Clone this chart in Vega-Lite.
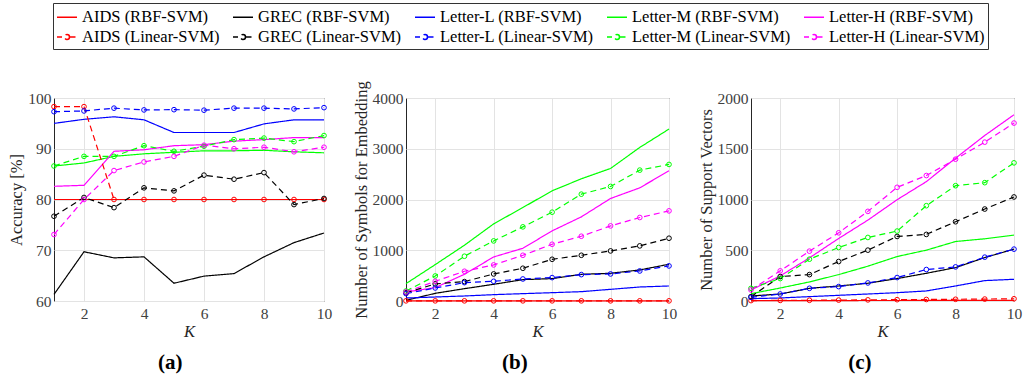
{
  "$schema": "https://vega.github.io/schema/vega-lite/v6.json",
  "padding": {"left": 8, "top": 2, "right": 2, "bottom": 0},
  "spacing": 19,
  "datasets": {
    "d": [
      {"series":"AIDS (RBF-SVM)","K":1,"accuracy":80,"symbols":2,"svs":3},
      {"series":"AIDS (RBF-SVM)","K":2,"accuracy":80,"symbols":2,"svs":3},
      {"series":"AIDS (RBF-SVM)","K":3,"accuracy":80,"symbols":2,"svs":4},
      {"series":"AIDS (RBF-SVM)","K":4,"accuracy":80,"symbols":2,"svs":4},
      {"series":"AIDS (RBF-SVM)","K":5,"accuracy":80,"symbols":2,"svs":5},
      {"series":"AIDS (RBF-SVM)","K":6,"accuracy":80,"symbols":2,"svs":5},
      {"series":"AIDS (RBF-SVM)","K":7,"accuracy":80,"symbols":2,"svs":6},
      {"series":"AIDS (RBF-SVM)","K":8,"accuracy":80,"symbols":2,"svs":6},
      {"series":"AIDS (RBF-SVM)","K":9,"accuracy":80,"symbols":2,"svs":7},
      {"series":"AIDS (RBF-SVM)","K":10,"accuracy":80,"symbols":2,"svs":7},
      {"series":"GREC (RBF-SVM)","K":1,"accuracy":61.3,"symbols":13,"svs":49},
      {"series":"GREC (RBF-SVM)","K":2,"accuracy":69.7,"symbols":151,"svs":69},
      {"series":"GREC (RBF-SVM)","K":3,"accuracy":68.5,"symbols":243,"svs":125},
      {"series":"GREC (RBF-SVM)","K":4,"accuracy":68.7,"symbols":329,"svs":148},
      {"series":"GREC (RBF-SVM)","K":5,"accuracy":63.5,"symbols":421,"svs":175},
      {"series":"GREC (RBF-SVM)","K":6,"accuracy":64.9,"symbols":441,"svs":221},
      {"series":"GREC (RBF-SVM)","K":7,"accuracy":65.4,"symbols":526,"svs":273},
      {"series":"GREC (RBF-SVM)","K":8,"accuracy":68.7,"symbols":546,"svs":329},
      {"series":"GREC (RBF-SVM)","K":9,"accuracy":71.5,"symbols":612,"svs":428},
      {"series":"GREC (RBF-SVM)","K":10,"accuracy":73.4,"symbols":724,"svs":511},
      {"series":"Letter-L (RBF-SVM)","K":1,"accuracy":95.0,"symbols":59,"svs":23},
      {"series":"Letter-L (RBF-SVM)","K":2,"accuracy":95.8,"symbols":79,"svs":30},
      {"series":"Letter-L (RBF-SVM)","K":3,"accuracy":96.3,"symbols":99,"svs":43},
      {"series":"Letter-L (RBF-SVM)","K":4,"accuracy":95.7,"symbols":125,"svs":56},
      {"series":"Letter-L (RBF-SVM)","K":5,"accuracy":93.2,"symbols":145,"svs":69},
      {"series":"Letter-L (RBF-SVM)","K":6,"accuracy":93.2,"symbols":164,"svs":82},
      {"series":"Letter-L (RBF-SVM)","K":7,"accuracy":93.2,"symbols":184,"svs":99},
      {"series":"Letter-L (RBF-SVM)","K":8,"accuracy":94.9,"symbols":230,"svs":148},
      {"series":"Letter-L (RBF-SVM)","K":9,"accuracy":95.7,"symbols":276,"svs":201},
      {"series":"Letter-L (RBF-SVM)","K":10,"accuracy":95.7,"symbols":296,"svs":214},
      {"series":"Letter-M (RBF-SVM)","K":1,"accuracy":86.6,"symbols":342,"svs":72},
      {"series":"Letter-M (RBF-SVM)","K":2,"accuracy":87.2,"symbols":717,"svs":128},
      {"series":"Letter-M (RBF-SVM)","K":3,"accuracy":88.5,"symbols":1099,"svs":188},
      {"series":"Letter-M (RBF-SVM)","K":4,"accuracy":89.0,"symbols":1520,"svs":260},
      {"series":"Letter-M (RBF-SVM)","K":5,"accuracy":89.3,"symbols":1842,"svs":343},
      {"series":"Letter-M (RBF-SVM)","K":6,"accuracy":89.6,"symbols":2171,"svs":438},
      {"series":"Letter-M (RBF-SVM)","K":7,"accuracy":89.6,"symbols":2408,"svs":501},
      {"series":"Letter-M (RBF-SVM)","K":8,"accuracy":89.7,"symbols":2612,"svs":586},
      {"series":"Letter-M (RBF-SVM)","K":9,"accuracy":89.4,"symbols":3026,"svs":613},
      {"series":"Letter-M (RBF-SVM)","K":10,"accuracy":89.2,"symbols":3388,"svs":649},
      {"series":"Letter-H (RBF-SVM)","K":1,"accuracy":82.6,"symbols":178,"svs":109},
      {"series":"Letter-H (RBF-SVM)","K":2,"accuracy":82.8,"symbols":263,"svs":247},
      {"series":"Letter-H (RBF-SVM)","K":3,"accuracy":89.5,"symbols":526,"svs":425},
      {"series":"Letter-H (RBF-SVM)","K":4,"accuracy":89.8,"symbols":868,"svs":616},
      {"series":"Letter-H (RBF-SVM)","K":5,"accuracy":90.6,"symbols":1039,"svs":797},
      {"series":"Letter-H (RBF-SVM)","K":6,"accuracy":90.8,"symbols":1382,"svs":998},
      {"series":"Letter-H (RBF-SVM)","K":7,"accuracy":91.5,"symbols":1658,"svs":1176},
      {"series":"Letter-H (RBF-SVM)","K":8,"accuracy":91.8,"symbols":2020,"svs":1407},
      {"series":"Letter-H (RBF-SVM)","K":9,"accuracy":92.2,"symbols":2230,"svs":1631},
      {"series":"Letter-H (RBF-SVM)","K":10,"accuracy":92.2,"symbols":2566,"svs":1835},
      {"series":"AIDS (Linear-SVM)","K":1,"accuracy":98.3,"symbols":3,"svs":4},
      {"series":"AIDS (Linear-SVM)","K":2,"accuracy":98.3,"symbols":3,"svs":6},
      {"series":"AIDS (Linear-SVM)","K":3,"accuracy":80,"symbols":3,"svs":7},
      {"series":"AIDS (Linear-SVM)","K":4,"accuracy":80,"symbols":3,"svs":9},
      {"series":"AIDS (Linear-SVM)","K":5,"accuracy":80,"symbols":3,"svs":11},
      {"series":"AIDS (Linear-SVM)","K":6,"accuracy":80,"symbols":3,"svs":13},
      {"series":"AIDS (Linear-SVM)","K":7,"accuracy":80,"symbols":3,"svs":15},
      {"series":"AIDS (Linear-SVM)","K":8,"accuracy":80,"symbols":3,"svs":17},
      {"series":"AIDS (Linear-SVM)","K":9,"accuracy":80,"symbols":3,"svs":19},
      {"series":"AIDS (Linear-SVM)","K":10,"accuracy":80,"symbols":3,"svs":22},
      {"series":"GREC (Linear-SVM)","K":1,"accuracy":76.7,"symbols":164,"svs":43},
      {"series":"GREC (Linear-SVM)","K":2,"accuracy":80.4,"symbols":336,"svs":241},
      {"series":"GREC (Linear-SVM)","K":3,"accuracy":78.4,"symbols":382,"svs":260},
      {"series":"GREC (Linear-SVM)","K":4,"accuracy":82.3,"symbols":533,"svs":389},
      {"series":"GREC (Linear-SVM)","K":5,"accuracy":81.7,"symbols":645,"svs":501},
      {"series":"GREC (Linear-SVM)","K":6,"accuracy":84.8,"symbols":822,"svs":636},
      {"series":"GREC (Linear-SVM)","K":7,"accuracy":84.0,"symbols":901,"svs":656},
      {"series":"GREC (Linear-SVM)","K":8,"accuracy":85.3,"symbols":987,"svs":781},
      {"series":"GREC (Linear-SVM)","K":9,"accuracy":79.0,"symbols":1086,"svs":906},
      {"series":"GREC (Linear-SVM)","K":10,"accuracy":80.2,"symbols":1237,"svs":1025},
      {"series":"Letter-L (Linear-SVM)","K":1,"accuracy":97.3,"symbols":145,"svs":36},
      {"series":"Letter-L (Linear-SVM)","K":2,"accuracy":97.45,"symbols":257,"svs":69},
      {"series":"Letter-L (Linear-SVM)","K":3,"accuracy":98.0,"symbols":362,"svs":125},
      {"series":"Letter-L (Linear-SVM)","K":4,"accuracy":97.65,"symbols":388,"svs":142},
      {"series":"Letter-L (Linear-SVM)","K":5,"accuracy":97.7,"symbols":434,"svs":178},
      {"series":"Letter-L (Linear-SVM)","K":6,"accuracy":97.6,"symbols":461,"svs":231},
      {"series":"Letter-L (Linear-SVM)","K":7,"accuracy":98.0,"symbols":520,"svs":310},
      {"series":"Letter-L (Linear-SVM)","K":8,"accuracy":98.0,"symbols":533,"svs":336},
      {"series":"Letter-L (Linear-SVM)","K":9,"accuracy":97.85,"symbols":592,"svs":432},
      {"series":"Letter-L (Linear-SVM)","K":10,"accuracy":98.1,"symbols":691,"svs":511},
      {"series":"Letter-M (Linear-SVM)","K":1,"accuracy":86.6,"symbols":197,"svs":125},
      {"series":"Letter-M (Linear-SVM)","K":2,"accuracy":88.5,"symbols":493,"svs":221},
      {"series":"Letter-M (Linear-SVM)","K":3,"accuracy":88.5,"symbols":882,"svs":412},
      {"series":"Letter-M (Linear-SVM)","K":4,"accuracy":90.6,"symbols":1184,"svs":527},
      {"series":"Letter-M (Linear-SVM)","K":5,"accuracy":89.5,"symbols":1461,"svs":626},
      {"series":"Letter-M (Linear-SVM)","K":6,"accuracy":90.5,"symbols":1750,"svs":689},
      {"series":"Letter-M (Linear-SVM)","K":7,"accuracy":91.8,"symbols":2105,"svs":939},
      {"series":"Letter-M (Linear-SVM)","K":8,"accuracy":92.1,"symbols":2257,"svs":1136},
      {"series":"Letter-M (Linear-SVM)","K":9,"accuracy":91.4,"symbols":2579,"svs":1166},
      {"series":"Letter-M (Linear-SVM)","K":10,"accuracy":92.6,"symbols":2691,"svs":1361},
      {"series":"Letter-H (Linear-SVM)","K":1,"accuracy":73.1,"symbols":178,"svs":109},
      {"series":"Letter-H (Linear-SVM)","K":2,"accuracy":80.0,"symbols":388,"svs":297},
      {"series":"Letter-H (Linear-SVM)","K":3,"accuracy":85.7,"symbols":586,"svs":491},
      {"series":"Letter-H (Linear-SVM)","K":4,"accuracy":87.4,"symbols":711,"svs":672},
      {"series":"Letter-H (Linear-SVM)","K":5,"accuracy":88.5,"symbols":901,"svs":883},
      {"series":"Letter-H (Linear-SVM)","K":6,"accuracy":90.7,"symbols":1118,"svs":1120},
      {"series":"Letter-H (Linear-SVM)","K":7,"accuracy":90.0,"symbols":1276,"svs":1236},
      {"series":"Letter-H (Linear-SVM)","K":8,"accuracy":90.3,"symbols":1480,"svs":1397},
      {"series":"Letter-H (Linear-SVM)","K":9,"accuracy":89.4,"symbols":1645,"svs":1565},
      {"series":"Letter-H (Linear-SVM)","K":10,"accuracy":90.3,"symbols":1776,"svs":1753}
    ]
  },
  "config": {
    "font": "'Liberation Serif', 'Times New Roman', 'DejaVu Serif', serif",
    "view": {"stroke": "#262626", "strokeWidth": 1},
    "axis": {"grid": true, "gridColor": "#e3e3e3", "domain": false, "ticks": false, "labelFont": "'Liberation Serif', 'Times New Roman', 'DejaVu Serif', serif", "labelFontSize": 15.5, "labelColor": "#404040", "titleFont": "'Liberation Serif', 'Times New Roman', 'DejaVu Serif', serif", "titleFontSize": 16.5, "titleFontWeight": "normal", "titleColor": "#262626"},
    "axisX": {"labelPadding": 5, "titlePadding": 2, "labelFlush": false, "titleFontStyle": "italic"},
    "axisY": {"labelPadding": 3, "titlePadding": 3}
  },
  "hconcat": [
    {
      "width": 270, "height": 203,
      "data": {"name": "d"},
      "title": {"text": "(a)", "orient": "bottom", "anchor": "middle", "frame": "bounds", "font": "'Liberation Serif', 'Times New Roman', 'DejaVu Serif', serif", "fontSize": 21, "fontWeight": "bold", "color": "black", "offset": 12},
      "encoding": {
        "x": {"field": "K", "type": "quantitative", "scale": {"domain": [1, 10], "nice": false}, "axis": {"values": [2, 4, 6, 8, 10], "title": "K"}},
        "y": {"field": "accuracy", "type": "quantitative", "scale": {"domain": [60, 100], "nice": false}, "axis": {"values": [60, 70, 80, 90, 100], "title": "Accuracy [%]"}}
      },
      "layer": [
        {
          "mark": {"type": "line", "strokeWidth": 1.2},
          "encoding": {
            "color": {"field": "series", "type": "nominal",
              "scale": {"domain": ["AIDS (RBF-SVM)","GREC (RBF-SVM)","Letter-L (RBF-SVM)","Letter-M (RBF-SVM)","Letter-H (RBF-SVM)","AIDS (Linear-SVM)","GREC (Linear-SVM)","Letter-L (Linear-SVM)","Letter-M (Linear-SVM)","Letter-H (Linear-SVM)"],
                        "range": ["#ff0000","#000000","#0000ff","#00ff00","#ff00ff","#ff0000","#000000","#0000ff","#00ff00","#ff00ff"]},
              "legend": {"title": null, "orient": "none", "legendX": -1, "legendY": -95, "direction": "horizontal", "columns": 5, "labelFont": "'Liberation Serif', 'Times New Roman', 'DejaVu Serif', serif", "labelFontSize": 16.5, "labelColor": "black", "labelLimit": 400, "labelOffset": 4, "symbolSize": 400, "symbolStrokeWidth": 1.5, "columnPadding": 10, "rowPadding": 0, "padding": 3, "strokeColor": "#333333", "fillColor": "white",
                "encode": {"symbols": {"update": {"shape": {"signal": "indexof(datum.value,'Linear')>=0 ? 'M-1,0H-0.5M0.25,0H1M0.25,0A0.25,0.25,0,1,1,-0.25,0A0.25,0.25,0,1,1,0.25,0' : 'M-1,0H1'"}, "fill": {"value": "transparent"}}}}}
            },
            "strokeDash": {"field": "series", "type": "nominal",
              "scale": {"domain": ["AIDS (RBF-SVM)","GREC (RBF-SVM)","Letter-L (RBF-SVM)","Letter-M (RBF-SVM)","Letter-H (RBF-SVM)","AIDS (Linear-SVM)","GREC (Linear-SVM)","Letter-L (Linear-SVM)","Letter-M (Linear-SVM)","Letter-H (Linear-SVM)"],
                        "range": [[1,0],[1,0],[1,0],[1,0],[1,0],[6,4],[6,4],[6,4],[6,4],[6,4]]},
              "legend": null}
          }
        },
        {
          "transform": [{"filter": "indexof(datum.series,'Linear')>=0"}],
          "mark": {"type": "point", "shape": "circle", "filled": false, "size": 22, "strokeWidth": 1, "opacity": 1},
          "encoding": {"color": {"field": "series", "type": "nominal", "legend": null}}
        }
      ]
    },
    {
      "width": 263, "height": 203,
      "data": {"name": "d"},
      "title": {"text": "(b)", "orient": "bottom", "anchor": "middle", "frame": "bounds", "font": "'Liberation Serif', 'Times New Roman', 'DejaVu Serif', serif", "fontSize": 21, "fontWeight": "bold", "color": "black", "offset": 12},
      "encoding": {
        "x": {"field": "K", "type": "quantitative", "scale": {"domain": [1, 10], "nice": false}, "axis": {"values": [2, 4, 6, 8, 10], "title": "K"}},
        "y": {"field": "symbols", "type": "quantitative", "scale": {"domain": [0, 4000], "nice": false}, "axis": {"values": [0, 1000, 2000, 3000, 4000], "format": "d", "title": "Number of Symbols for Embedding"}}
      },
      "layer": [
        {
          "mark": {"type": "line", "strokeWidth": 1.2},
          "encoding": {
            "color": {"field": "series", "type": "nominal", "legend": null},
            "strokeDash": {"field": "series", "type": "nominal", "legend": null}
          }
        },
        {
          "transform": [{"filter": "indexof(datum.series,'Linear')>=0"}],
          "mark": {"type": "point", "shape": "circle", "filled": false, "size": 22, "strokeWidth": 1, "opacity": 1},
          "encoding": {"color": {"field": "series", "type": "nominal", "legend": null}}
        }
      ]
    },
    {
      "width": 263, "height": 203,
      "data": {"name": "d"},
      "title": {"text": "(c)", "orient": "bottom", "anchor": "middle", "frame": "bounds", "font": "'Liberation Serif', 'Times New Roman', 'DejaVu Serif', serif", "fontSize": 21, "fontWeight": "bold", "color": "black", "offset": 12},
      "encoding": {
        "x": {"field": "K", "type": "quantitative", "scale": {"domain": [1, 10], "nice": false}, "axis": {"values": [2, 4, 6, 8, 10], "title": "K"}},
        "y": {"field": "svs", "type": "quantitative", "scale": {"domain": [0, 2000], "nice": false}, "axis": {"values": [0, 500, 1000, 1500, 2000], "format": "d", "title": "Number of Support Vectors"}}
      },
      "layer": [
        {
          "mark": {"type": "line", "strokeWidth": 1.2},
          "encoding": {
            "color": {"field": "series", "type": "nominal", "legend": null},
            "strokeDash": {"field": "series", "type": "nominal", "legend": null}
          }
        },
        {
          "transform": [{"filter": "indexof(datum.series,'Linear')>=0"}],
          "mark": {"type": "point", "shape": "circle", "filled": false, "size": 22, "strokeWidth": 1, "opacity": 1},
          "encoding": {"color": {"field": "series", "type": "nominal", "legend": null}}
        }
      ]
    }
  ]
}
